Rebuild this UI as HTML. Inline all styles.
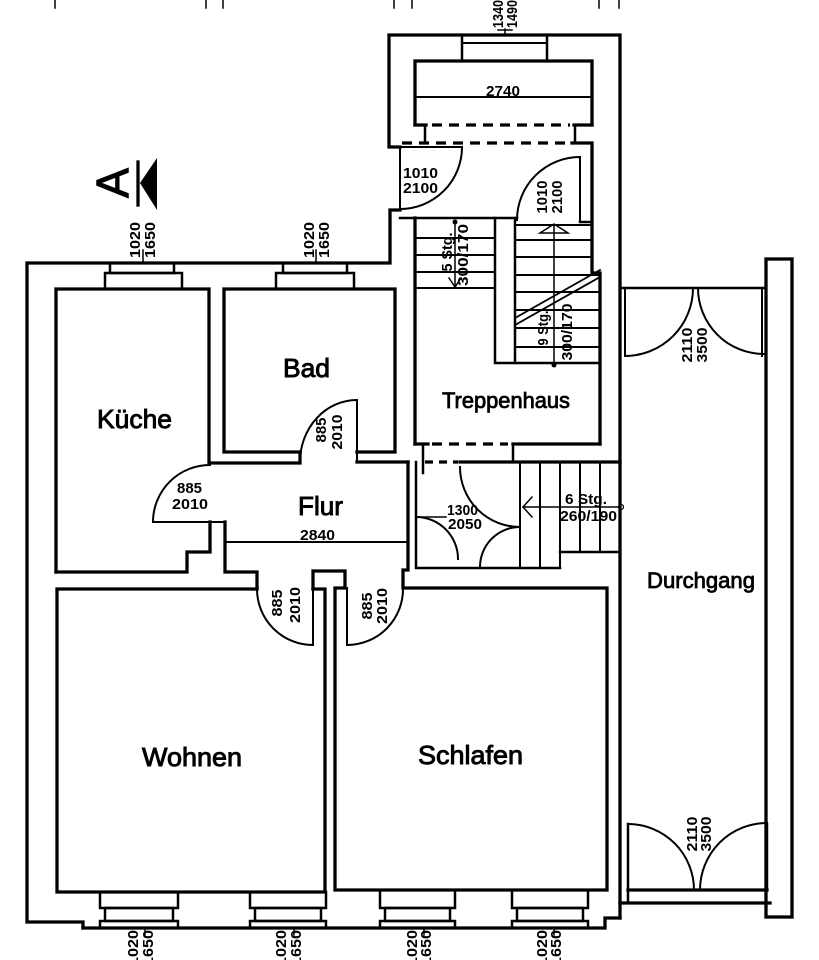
<!DOCTYPE html>
<html><head><meta charset="utf-8"><style>
html,body{margin:0;padding:0;background:#fff;}
svg{display:block;}
text{font-family:"Liberation Sans",sans-serif;fill:#000;}
.r{font-size:26px;stroke:#000;stroke-width:0.9;}
.r2{font-size:22px;stroke:#000;stroke-width:0.8;}
.d{font-size:15px;font-weight:bold;}
.c{text-anchor:middle;}
</style></head><body>
<svg width="819" height="960" viewBox="0 0 819 960" xmlns="http://www.w3.org/2000/svg">
<rect width="819" height="960" fill="#fff"/>
<g fill="none" stroke="#000" stroke-width="3.3" stroke-linejoin="miter" stroke-linecap="square">
<!-- outer walls -->
<path d="M83,928 L83,922 L27,922 L27,263 L390,263 L390,210 L400,210"/>
<path d="M400,147 L389,147 L389,35 L620,35 L620,918"/>
<path d="M83,928 L605,928 L605,918 L620,918"/>
<!-- stair tower top -->
<path d="M415,125 L415,61 L592,61 L592,125"/>
<path d="M415,125 L426,125 M574,125 L592,125"/>
<path d="M432,125 L570,125" stroke-dasharray="10 7" stroke-linecap="butt"/>
<path d="M415,97 L592,97" stroke-width="2"/>
<rect x="462" y="35" width="85" height="26" stroke-width="2.5"/>
<path d="M462,43 L547,43" stroke-width="2"/>
<path d="M425,125 L425,143 M575,125 L575,143" stroke-width="2.5"/>
<path d="M402,143 L570,143" stroke-dasharray="10 7" stroke-linecap="butt"/>
<path d="M572,143 L592,143 L592,273 L600,273 L600,444"/>
<!-- tower doors -->
<path d="M400,147 L400,210 M400,147 L462,147" stroke-width="2"/>
<path d="M462,147 A62,62 0 0 1 400,209" stroke-width="2"/>
<path d="M580,157 L580,220" stroke-width="2"/>
<path d="M580,157 A63,63 0 0 0 517,220" stroke-width="2"/>
<path d="M400,218 L517,218 M580,222 L592,222" stroke-width="2.5"/>
<!-- stairs -->
<path d="M415,218 L415,444"/>
<path d="M415,238 H495 M415,255 H495 M415,272 H495 M415,288 H495" stroke-width="2"/>
<path d="M495,218 V363 H515 V218" stroke-width="2.5"/>
<path d="M515,225 H592 M515,240 H592 M515,257 H592 M515,275 H600 M515,292 H600 M515,310 H600 M515,328 H600 M515,347 H600" stroke-width="2"/>
<path d="M515,363 H600" stroke-width="2.5"/>
<path d="M515,318 L600,270 M515,325 L600,277" stroke-width="1.8"/>
<path d="M455,222 V286" stroke-width="1.5"/>
<path d="M449,278 L455,287 L461,278" stroke-width="1.5"/>
<path d="M554,226 V365" stroke-width="1.5"/>
<path d="M540,233 L554,224 L568,233 Z" stroke-width="1.5"/>
<!-- Treppenhaus bottom -->
<path d="M415,444 H428 M513,444 H600"/>
<path d="M432,444 L508,444" stroke-dasharray="10 7" stroke-linecap="butt"/>
<path d="M423,444 V473 M513,444 V462" stroke-width="2.5"/>
<path d="M425,462 L458,462" stroke-dasharray="8 6" stroke-linecap="butt"/>
<path d="M460,462 H620"/>
<!-- 6 Stg stair -->
<path d="M520,462 V568 M540,462 V568 M560,462 V568 M580,462 V552 M600,462 V552" stroke-width="2"/>
<path d="M560,552 H620" stroke-width="2.5"/>
<path d="M416,462 V568 H560" stroke-width="2.5"/>
<path d="M523,507 H619" stroke-width="1.5"/>
<path d="M532,497 L523,507 L532,517" stroke-width="1.5"/>
<!-- 1300 double door -->
<path d="M460,467 A60,60 0 0 0 520,527" stroke-width="2"/>
<path d="M480,567 A40,40 0 0 1 520,527" stroke-width="2"/>
<path d="M416,517 A42,42 0 0 1 458,559" stroke-width="2"/>
<path d="M416,517 L446,517" stroke-width="1.5"/>
<!-- Küche / Bad -->
<path d="M56,572 V289 H209 V463"/>
<path d="M300,452 H224 V289 H395 V452 H357"/>
<path d="M300,452 V463 H210"/>
<path d="M357,462 H408"/>
<path d="M357,400 V462" stroke-width="2"/>
<path d="M300,462 A57,62 0 0 1 357,400" stroke-width="2"/>
<rect x="110" y="263" width="64" height="10" stroke-width="2.5"/>
<rect x="105" y="273" width="77" height="16" stroke-width="2.5"/>
<rect x="283" y="263" width="64" height="10" stroke-width="2.5"/>
<rect x="276" y="273" width="78" height="16" stroke-width="2.5"/>
<!-- Küche door -->
<path d="M153,522 A57,57 0 0 1 210,465" stroke-width="2"/>
<path d="M153,522 H225" stroke-width="2"/>
<path d="M210,522 V552 H187 V572 H56"/>
<path d="M225,522 V572 H257 V589"/>
<path d="M225,542 H408" stroke-width="2"/>
<!-- Flur right / Schlafen -->
<path d="M408,462 V570 H403 V588 H607 V890 H335 V588 H345 V571 H313 V589"/>
<path d="M347,588 V645" stroke-width="2"/>
<path d="M347,645 A56,56 0 0 0 403,588" stroke-width="2"/>
<!-- Wohnen -->
<path d="M257,589 H57 V892 H325 V589 H313"/>
<path d="M313,589 V645" stroke-width="2"/>
<path d="M257,589 A56,56 0 0 0 313,645" stroke-width="2"/>
<!-- bottom windows -->
<g stroke-width="2.5">
<rect x="100" y="892" width="78" height="16"/><rect x="105" y="908" width="68" height="13"/><rect x="100" y="921" width="78" height="7"/>
<rect x="250" y="892" width="76" height="16"/><rect x="255" y="908" width="66" height="13"/><rect x="250" y="921" width="76" height="7"/>
<rect x="380" y="890" width="75" height="18"/><rect x="385" y="908" width="65" height="13"/><rect x="380" y="921" width="75" height="7"/>
<rect x="512" y="890" width="76" height="18"/><rect x="517" y="908" width="66" height="13"/><rect x="512" y="921" width="76" height="7"/>
</g>
<!-- Durchgang -->
<path d="M620,288 H766" stroke-width="2.5"/>
<path d="M625,288 V356 M762,288 V356" stroke-width="2"/>
<path d="M625,356 A68,68 0 0 0 693,288" stroke-width="2"/>
<path d="M698,288 A66,66 0 0 0 764,354" stroke-width="2"/>
<path d="M628,824 V903 M767,824 V890" stroke-width="2.5"/>
<path d="M628,890 H767 M620,903 H770"/>
<path d="M628,824 A66,66 0 0 1 694,890" stroke-width="2"/>
<path d="M700,890 A67,67 0 0 1 767,823" stroke-width="2"/>
<rect x="766" y="259" width="26" height="658"/>
<!-- ticks -->
<path d="M55,0 V8 M206,0 V8 M223,0 V8 M394,0 V8 M412,0 V8 M599,0 V8 M619,0 V8" stroke-width="1.5"/>
<path d="M505,29 V35 M498,30 H512" stroke-width="1.5"/>
<path d="M143,250 V263 M316,250 V263" stroke-width="1.5"/>
<path d="M145,928 V935 M294,928 V935 M424,928 V935 M554,928 V935" stroke-width="1.5"/>
<!-- section marker -->
<path d="M138,162 V205"/>
</g>
<path d="M140,183 L157,158 L157,210 Z" fill="#000"/>
<circle cx="455" cy="222" r="2.5" fill="#000"/>
<circle cx="554" cy="365" r="2.5" fill="#000"/>
<circle cx="621" cy="507" r="2.5" fill="none" stroke="#000" stroke-width="1.2"/>

<text transform="translate(128,183) rotate(-90)" class="c" font-size="45" stroke="#000" stroke-width="1">A</text>

<!-- room labels -->
<text x="97" y="428" class="r" textLength="75" lengthAdjust="spacingAndGlyphs">Küche</text>
<text x="283" y="377" class="r" textLength="47" lengthAdjust="spacingAndGlyphs">Bad</text>
<text x="298" y="515" class="r" textLength="45" lengthAdjust="spacingAndGlyphs">Flur</text>
<text x="442" y="408" class="r2" textLength="128" lengthAdjust="spacingAndGlyphs">Treppenhaus</text>
<text x="647" y="588" class="r2" textLength="108" lengthAdjust="spacingAndGlyphs">Durchgang</text>
<text x="142" y="766" class="r" textLength="100" lengthAdjust="spacingAndGlyphs">Wohnen</text>
<text x="418" y="764" class="r" textLength="105" lengthAdjust="spacingAndGlyphs">Schlafen</text>

<!-- horizontal dims -->
<text x="486" y="96" class="d" textLength="34" lengthAdjust="spacingAndGlyphs">2740</text>
<text x="300" y="540" class="d" textLength="35" lengthAdjust="spacingAndGlyphs">2840</text>
<text x="403" y="178" class="d" textLength="35" lengthAdjust="spacingAndGlyphs">1010</text>
<text x="403" y="193" class="d" textLength="35" lengthAdjust="spacingAndGlyphs">2100</text>
<text x="177" y="493" class="d" textLength="25" lengthAdjust="spacingAndGlyphs">885</text>
<text x="172" y="509" class="d" textLength="36" lengthAdjust="spacingAndGlyphs">2010</text>
<text x="447" y="515" class="d" textLength="31" lengthAdjust="spacingAndGlyphs">1300</text>
<text x="448" y="529" class="d" textLength="34" lengthAdjust="spacingAndGlyphs">2050</text>
<text x="565" y="504" class="d" textLength="42" lengthAdjust="spacingAndGlyphs">6 Stg.</text>
<text x="560" y="521" class="d" textLength="57" lengthAdjust="spacingAndGlyphs">260/190</text>

<!-- rotated dims -->
<g class="d">
<text transform="translate(140,240) rotate(-90)" class="c" textLength="36" lengthAdjust="spacingAndGlyphs">1020</text>
<text transform="translate(155,240) rotate(-90)" class="c" textLength="36" lengthAdjust="spacingAndGlyphs">1650</text>
<text transform="translate(314,240) rotate(-90)" class="c" textLength="36" lengthAdjust="spacingAndGlyphs">1020</text>
<text transform="translate(329,240) rotate(-90)" class="c" textLength="36" lengthAdjust="spacingAndGlyphs">1650</text>
<text transform="translate(503,14) rotate(-90)" class="c" textLength="28" lengthAdjust="spacingAndGlyphs">1340</text>
<text transform="translate(517,14) rotate(-90)" class="c" textLength="28" lengthAdjust="spacingAndGlyphs">1490</text>
<text transform="translate(547,197) rotate(-90)" class="c" textLength="33" lengthAdjust="spacingAndGlyphs">1010</text>
<text transform="translate(562,197) rotate(-90)" class="c" textLength="33" lengthAdjust="spacingAndGlyphs">2100</text>
<text transform="translate(452,252) rotate(-90)" class="c" textLength="39" lengthAdjust="spacingAndGlyphs">5 Stg.</text>
<text transform="translate(468,255) rotate(-90)" class="c" textLength="62" lengthAdjust="spacingAndGlyphs">300/170</text>
<text transform="translate(548,328) rotate(-90)" class="c" textLength="35" lengthAdjust="spacingAndGlyphs">9 Stg.</text>
<text transform="translate(572,332) rotate(-90)" class="c" textLength="57" lengthAdjust="spacingAndGlyphs">300/170</text>
<text transform="translate(326,430) rotate(-90)" class="c" textLength="25" lengthAdjust="spacingAndGlyphs">885</text>
<text transform="translate(342,432) rotate(-90)" class="c" textLength="35" lengthAdjust="spacingAndGlyphs">2010</text>
<text transform="translate(282,603) rotate(-90)" class="c" textLength="27" lengthAdjust="spacingAndGlyphs">885</text>
<text transform="translate(300,605) rotate(-90)" class="c" textLength="36" lengthAdjust="spacingAndGlyphs">2010</text>
<text transform="translate(372,606) rotate(-90)" class="c" textLength="27" lengthAdjust="spacingAndGlyphs">885</text>
<text transform="translate(387,606) rotate(-90)" class="c" textLength="36" lengthAdjust="spacingAndGlyphs">2010</text>
<text transform="translate(692,345) rotate(-90)" class="c" textLength="35" lengthAdjust="spacingAndGlyphs">2110</text>
<text transform="translate(707,345) rotate(-90)" class="c" textLength="35" lengthAdjust="spacingAndGlyphs">3500</text>
<text transform="translate(697,834) rotate(-90)" class="c" textLength="35" lengthAdjust="spacingAndGlyphs">2110</text>
<text transform="translate(711,834) rotate(-90)" class="c" textLength="35" lengthAdjust="spacingAndGlyphs">3500</text>
<text transform="translate(138,948) rotate(-90)" class="c" textLength="36" lengthAdjust="spacingAndGlyphs">1020</text>
<text transform="translate(153,948) rotate(-90)" class="c" textLength="36" lengthAdjust="spacingAndGlyphs">1650</text>
<text transform="translate(286,948) rotate(-90)" class="c" textLength="36" lengthAdjust="spacingAndGlyphs">1020</text>
<text transform="translate(301,948) rotate(-90)" class="c" textLength="36" lengthAdjust="spacingAndGlyphs">1650</text>
<text transform="translate(417,948) rotate(-90)" class="c" textLength="36" lengthAdjust="spacingAndGlyphs">1020</text>
<text transform="translate(431,948) rotate(-90)" class="c" textLength="36" lengthAdjust="spacingAndGlyphs">1650</text>
<text transform="translate(547,948) rotate(-90)" class="c" textLength="36" lengthAdjust="spacingAndGlyphs">1020</text>
<text transform="translate(561,948) rotate(-90)" class="c" textLength="36" lengthAdjust="spacingAndGlyphs">1650</text>
</g>
</svg>
</body></html>
